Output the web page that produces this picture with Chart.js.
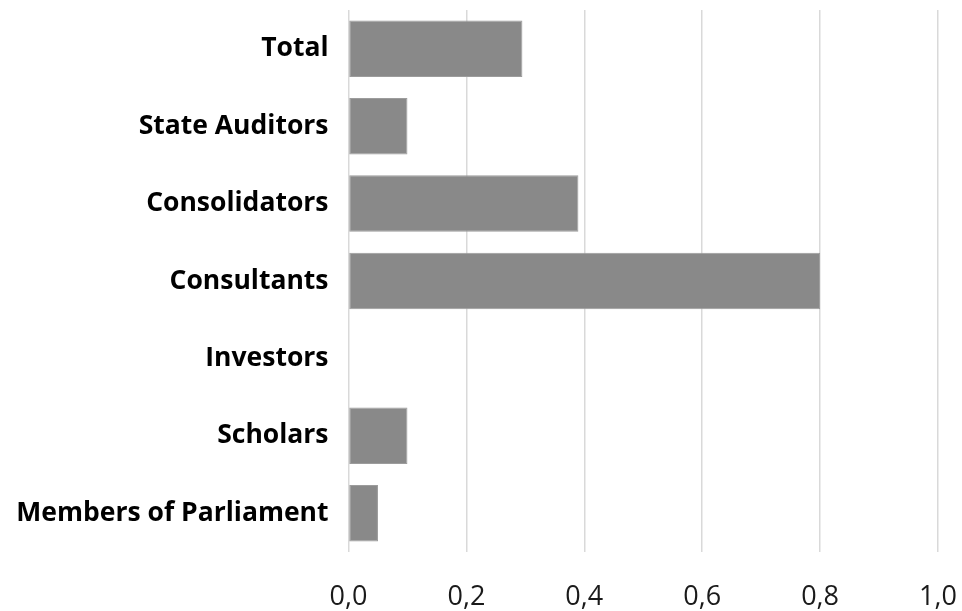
<!DOCTYPE html>
<html>
<head>
<meta charset="utf-8">
<script src="https://cdn.jsdelivr.net/npm/chart.js@4.4.0/dist/chart.umd.min.js"></script>
<style>
  html, body { margin: 0; padding: 0; background: #fff; }
  #wrap { width: 962px; height: 611px; }
</style>
</head>
<body>
<div id="wrap"><canvas id="myChart"></canvas></div>
<script>
// categories, top to bottom
const categorias = [
    'Total',
    'State Auditors',
    'Consolidators',
    'Consultants',
    'Investors',
    'Scholars',
    'Members of Parliament'
];

// values
const valores = [0.295, 0.1, 0.39, 0.8, 0, 0.1, 0.05];

// x axis ticks
const ticksX = [0, 0.2, 0.4, 0.6, 0.8, 1.0];

const data = {
    labels: categorias,
    datasets: [{
        label: 'Valores',
        backgroundColor: '#898989',
        borderColor: '#9c9c9c',
        borderWidth: 1,
        borderSkipped: false,
        data: valores,
        barPercentage: 0.73,
        categoryPercentage: 1
    }]
};

const config = {
    type: 'bar',
    data: data,
    options: {
        indexAxis: 'y',
        responsive: true,
        maintainAspectRatio: false,
        animation: false,
        layout: {
            autoPadding: false,
            padding: { top: 10, right: 24, bottom: 0, left: 0 }
        },
        plugins: {
            legend: { display: false },
            tooltip: { enabled: false }
        },
        scales: {
            x: {
                min: 0,
                max: 1,
                afterBuildTicks: function (scale) {
                    scale.ticks = ticksX.map(v => ({ value: v }));
                },
                afterFit: function (scale) {
                    scale.height = 59;
                    scale.paddingLeft = 0;
                    scale.paddingRight = 0;
                },
                grid: {
                    color: '#d9d9d9',
                    lineWidth: 1.5,
                    drawTicks: false
                },
                border: { display: false },
                ticks: {
                    padding: 29,
                    maxRotation: 0,
                    minRotation: 0,
                    color: '#1a1a1a',
                    font: { family: 'Open Sans', size: 27 },
                    callback: function (v) {
                        return Number(v).toFixed(1).replace('.', ',');
                    }
                }
            },
            y: {
                grid: { display: false, drawTicks: false },
                border: { display: false },
                afterFit: function (scale) {
                    scale.width = 348.5;
                    scale.paddingTop = 0;
                    scale.paddingBottom = 0;
                },
                ticks: {
                    padding: 20,
                    autoSkip: false,
                    color: '#000',
                    font: { family: 'Open Sans', size: 26.5, weight: 'bold' }
                }
            }
        }
    }
};

const myChart = new Chart(
    document.getElementById('myChart'),
    config
);
</script>
</body>
</html>
